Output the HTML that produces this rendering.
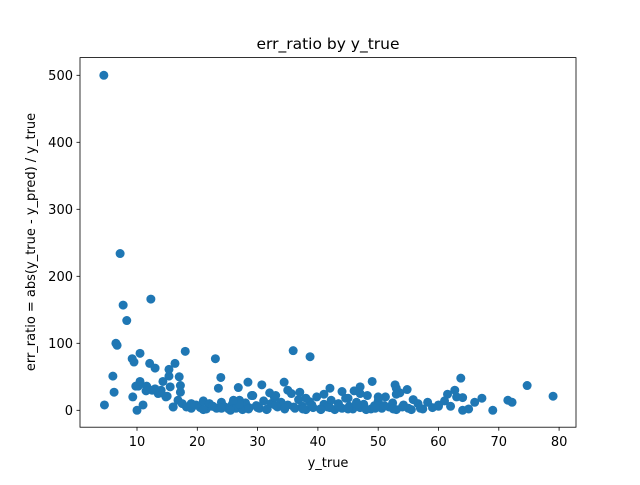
<!DOCTYPE html>
<html><head><meta charset="utf-8"><style>
body{margin:0;background:#fff;font-family:"Liberation Sans","DejaVu Sans",sans-serif;}
svg text{font-family:"DejaVu Sans","Liberation Sans",sans-serif;font-size:13px;fill:#000}
</style></head><body>
<svg id="chart" width="640" height="480">
<rect width="640" height="480" fill="#fff"/>
<text x="328" y="49" text-anchor="middle" style="font-size:15.5px">err_ratio by y_true</text>
<g id="marks"></g>
<g id="axes"></g>
<text x="328" y="467" text-anchor="middle">y_true</text>
<text transform="translate(35,242) rotate(-90)" text-anchor="middle">err_ratio = abs(y_true - y_pred) / y_true</text>
</svg>
<script>
const xs=[4.5,7.2,7.7,8.3,6.5,6.7,6,4.6,6.2,9.2,9.5,9.8,10.2,9.3,10.5,10.5,12.3,12.1,13,11.6,11,10,14.3,15.3,15.3,16.3,18,17,17.2,17.2,23,23.9,23.5,35.9,38.7,34.4,30.7,28.4,26.8,42,49,52.8,54.8,63.7,74.7,79,62.7,61.5,67.2,71.5,72.2,69,
13.5,14,14.8,15.5,16,16.8,17.5,18.2,19,19.8,20.5,21,21.5,22,22.6,23.2,24,24.6,25.2,25.8,26.4,27,27.5,28,28.6,29.2,29.8,30.3,31,31.6,32.2,32.8,33.3,33.9,34.5,35,35.6,36.2,36.8,37.4,38,38.6,39.2,39.8,40.4,41,41.6,42.2,42.8,43.4,44,44.6,45.2,45.8,46.4,47,47.6,48.2,48.8,49.4,50,50.6,51.2,51.8,52.4,53,53.6,54.2,55,55.8,56.6,57.4,58.2,59,60,61,62,63,64,65,66,
21,22.5,24,25.5,27,28.5,30,31.5,33,34.5,36,37.5,39,40.5,42,43.5,45,46.5,48,49.5,51,52.5,54,55.5,57,26,29,32,35,38,41,44,47,50,53,46,33,37,19,16,12.5,14,11.5,13,15,47,45,53,64,60];
const ys=[500,234,157,134,100,97,51,8,27,77,72,36,36,20,43,85,166,70,63,36,8,0,43,51,61,70,88,50,37,27,77,49,33,89,80,42,38,42,34,33,43,38,31,48,37,21,30,24,18,15,12,0,
25,30,20,35,5,15,10,5,3,8,4,14,2,10,6,3,12,5,2,9,3,15,1,11,4,22,7,3,14,2,10,19,5,12,2,8,25,3,16,6,1,13,4,20,2,9,5,15,1,10,3,18,6,2,12,4,9,22,2,7,14,3,20,5,11,1,26,8,3,16,10,2,12,4,8,14,6,20,0,2,12,
1,6,3,0,9,2,4,1,7,3,5,2,8,1,4,6,2,9,1,3,7,2,5,1,3,15,22,26,30,18,24,28,35,20,33,29,22,27,10,5,30,26,29,32,21,25,18,24,19,6];
const yticks=[0,100,200,300,400,500], xticks=[10,20,30,40,50,60,70,80];
const X=v=>76.7+v*6.03, Y=v=>410.3-v*0.67;
const NS='http://www.w3.org/2000/svg', g=document.getElementById('marks'), ax=document.getElementById('axes');
xs.forEach((x,i)=>{const c=document.createElementNS(NS,'circle');c.setAttribute('cx',X(x));c.setAttribute('cy',Y(ys[i]));c.setAttribute('r',4.5);c.setAttribute('fill','#1f77b4');


g.appendChild(c);});
function el(t,a){const e=document.createElementNS(NS,t);for(const k in a)e.setAttribute(k,a[k]);ax.appendChild(e);return e;}
const fr=el('rect',{x:80,y:57.6,width:496,height:369.6,fill:'none',stroke:'#000','stroke-width':0.8});


xticks.forEach(v=>{el('line',{x1:X(v),x2:X(v),y1:427.2,y2:430.7,stroke:'#000','stroke-width':0.8});const t=el('text',{x:X(v),y:446,'text-anchor':'middle'});t.textContent=v;

});
yticks.forEach(v=>{el('line',{x1:76.5,x2:80,y1:Y(v),y2:Y(v),stroke:'#000','stroke-width':0.8});const t=el('text',{x:73,y:Y(v)+4.5,'text-anchor':'end'});t.textContent=v;

});
</script>
</body></html>
